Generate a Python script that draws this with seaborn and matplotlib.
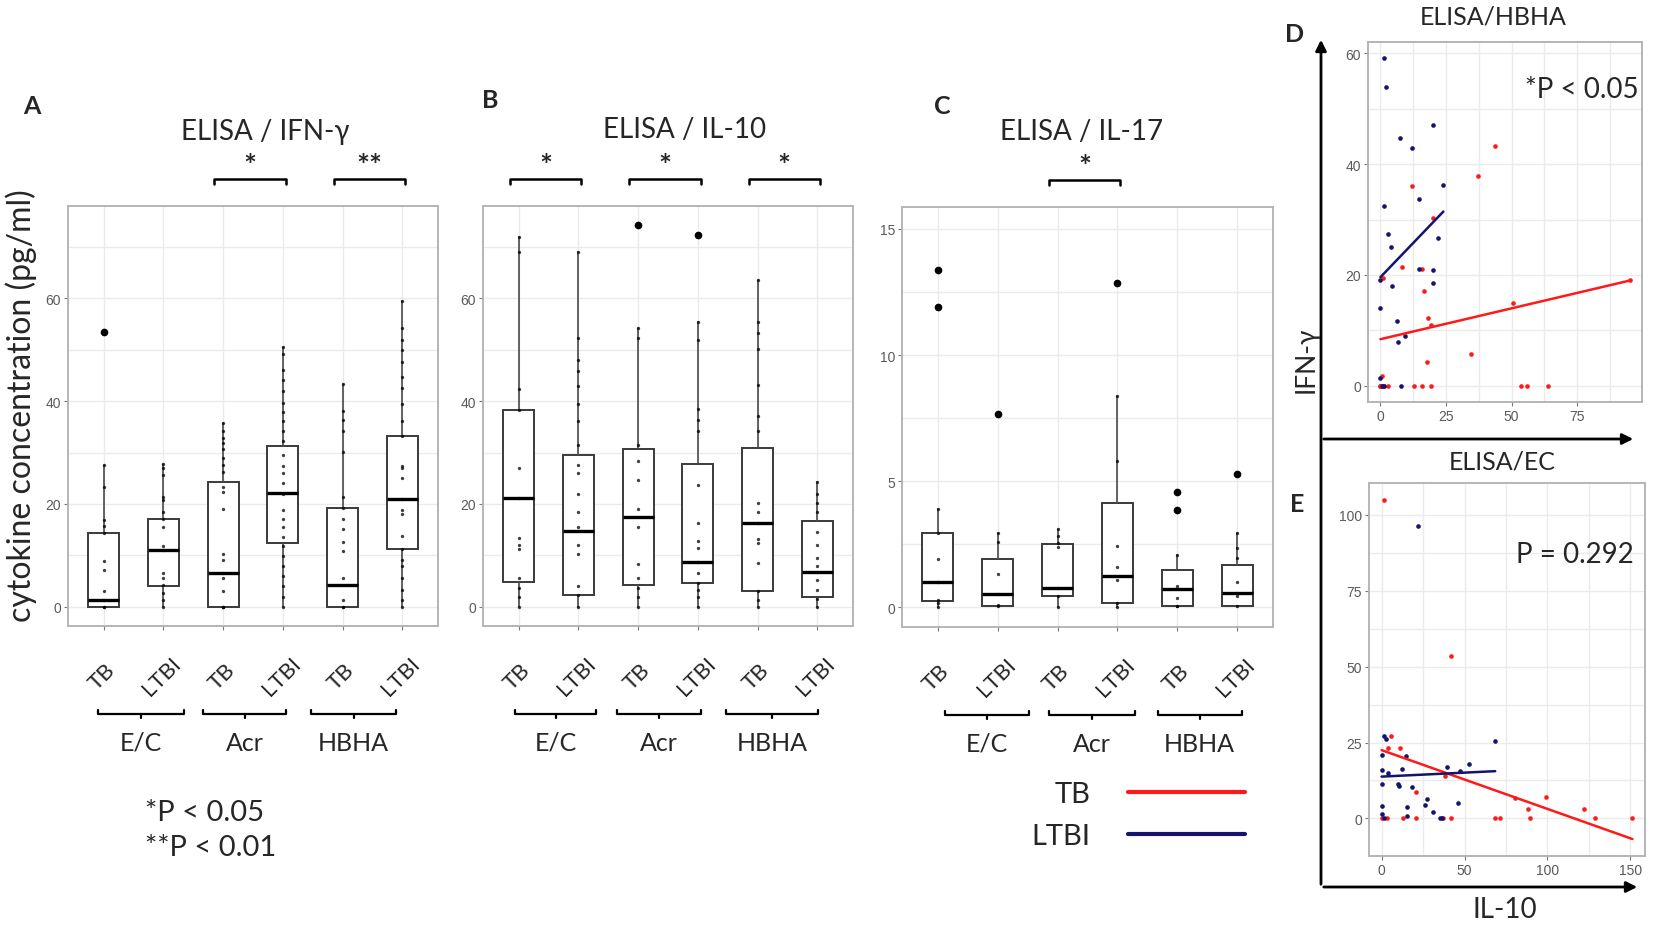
import numpy as np
import pandas as pd
import matplotlib
matplotlib.use("Agg")
import matplotlib.pyplot as plt
import matplotlib.transforms as mtransforms
from matplotlib.lines import Line2D
from matplotlib.patches import FancyArrowPatch
import seaborn as sns

sns.set_theme(style="white")
plt.rcParams['font.family'] = ['Lato', 'DejaVu Sans']

# categories
stimuli = ['E/C', 'Acr', 'HBHA']
groups = ['TB', 'LTBI']

# panel A: ELISA / IFN-g  (box stats)
ifng_q1 = [0, 4.0, 0, 12.5, 0, 11.3]
ifng_med = [1.4, 11.1, 6.6, 22.2, 4.2, 20.9]
ifng_q3 = [14.4, 17.0, 24.3, 31.2, 19.2, 33.3]
ifng_lo = [0, 0, 0, 0, 0, 0]
ifng_hi = [27.6, 27.7, 35.8, 50.5, 43.3, 59.4]
ifng_out = [[53.5], [], [], [], [], []]
ifng_pts = [
    [0, 0, 1.4, 3.1, 7.1, 8.9, 14.4, 15.8, 16.8, 23.3, 27.6],
    [0, 1.3, 2.7, 4.3, 5.6, 6.6, 11.1, 11.9, 15.5, 17.1, 18.4, 20.7, 21.4, 25.6, 26.9, 27.7],
    [0, 0, 0, 3.0, 5.6, 6.6, 9.2, 10.2, 19.1, 22.4, 23.3, 26.3, 27.6, 28.9, 30.6, 31.9, 32.8, 34.2, 35.8],
    [0, 2.0, 4.0, 6.0, 7.9, 9.9, 11.9, 13.5, 15.5, 17.1, 18.8, 22.0, 24.0, 26.0, 27.3, 29.6, 32.2,
     34.2, 36.1, 37.8, 39.7, 42.0, 44.0, 46.0, 49.2, 50.5],
    [0, 0, 1.4, 5.6, 10.9, 12.7, 15.2, 17.1, 19.2, 21.4, 30.2, 34.2, 36.3, 38.1, 43.3],
    [0, 1.3, 3.3, 5.6, 7.9, 9.2, 11.3, 13.8, 18.1, 18.8, 20.9, 25.1, 26.9, 27.3, 33.2, 36.1, 39.4,
     42.6, 44.6, 47.6, 49.9, 51.9, 54.2, 59.4],
]

# panel B: ELISA / IL-10
il10_q1 = [4.9, 2.3, 4.3, 4.6, 3.0, 2.0]
il10_med = [21.2, 14.7, 17.4, 8.7, 16.3, 6.7]
il10_q3 = [38.2, 29.6, 30.6, 27.7, 30.9, 16.6]
il10_lo = [0, 0, 0, 0, 0, 0]
il10_hi = [71.8, 69.0, 54.2, 55.4, 63.5, 24.3]
il10_out = [[], [], [74.2], [72.2], [], []]
il10_pts = [
    [0, 2.0, 3.6, 5.6, 11.2, 12.1, 13.4, 21.2, 26.9, 38.2, 42.4, 68.9, 71.8],
    [0, 2.3, 4.0, 10.2, 12.1, 15.5, 18.4, 22.0, 26.0, 27.6, 31.5, 36.1, 39.4, 43.0, 45.9, 48.0, 52.3, 69.0],
    [0, 2.0, 3.6, 5.6, 8.4, 15.5, 19.1, 24.7, 28.3, 31.5, 52.2, 54.2],
    [0, 2.0, 3.3, 4.6, 6.6, 8.7, 11.5, 12.9, 16.4, 23.6, 34.2, 36.3, 38.4, 51.9, 55.4],
    [0, 1.3, 3.0, 8.6, 12.5, 13.1, 16.3, 18.4, 20.1, 34.2, 37.1, 43.2, 50.2, 53.2, 55.4, 63.5],
    [0, 1.6, 3.3, 5.2, 6.7, 7.9, 9.5, 12.1, 14.6, 18.4, 20.1, 22.0, 24.3],
]

# panel C: ELISA / IL-17
il17_q1 = [0.26, 0.07, 0.46, 0.17, 0.07, 0.07]
il17_med = [1.0, 0.54, 0.76, 1.25, 0.72, 0.57]
il17_q3 = [2.93, 1.92, 2.5, 4.14, 1.49, 1.68]
il17_lo = [0, 0, 0, 0, 0, 0]
il17_hi = [3.9, 2.96, 3.09, 8.39, 2.08, 2.93]
il17_out = [[13.36, 11.9], [7.67], [], [12.87], [4.58, 3.86], [5.3]]
il17_pts = [
    [0, 0.17, 0.3, 1.0, 1.92, 2.93, 3.9],
    [0.04, 0.1, 0.54, 1.33, 2.57, 2.96],
    [0, 0.43, 0.76, 2.41, 2.54, 2.83, 3.09],
    [0, 0.17, 1.09, 1.59, 2.45, 5.8, 8.39],
    [0.04, 0.07, 0.37, 0.83, 2.08],
    [0.04, 0.43, 0.57, 0.99, 1.95, 2.34, 2.93],
]

# panel D: ELISA/HBHA, IL-10 (x) vs IFN-g (y)
hbha_tb_x = [43.5, 37.2, 12.1, 20, 8.4, 15.7, 1, 16.5, 50.5, 18.2, 19.1, 34.6, 17.8, 0.6, 95,
             0, 2.8, 12.9, 15.9, 19.1, 53.5, 55.8, 63.9, 0, 0.3, 0.8, 1.2]
hbha_tb_y = [43.2, 37.9, 36.1, 30.2, 21.4, 21.0, 19.4, 17.0, 14.9, 12.3, 10.9, 5.8, 4.2, 1.8, 19.0,
             0, 0, 0, 0, 0, 0, 0, 0, 0, 0, 0, 0]
hbha_ltbi_x = [1.5, 2.3, 20, 7.4, 11.9, 24, 14.6, 1.3, 2.8, 21.9, 3.9, 14.6, 20, 0, 20, 4.5, 0,
               6.3, 9.4, 6.7, 0, 0.6, 1.4, 8]
hbha_ltbi_y = [59.1, 54.0, 47.1, 44.7, 43.0, 36.3, 33.7, 32.5, 27.4, 26.6, 25.1, 21.1, 20.8, 19.0,
               18.5, 18.0, 14.0, 11.6, 8.9, 7.8, 1.3, 0, 0, 0]

# panel E: ELISA/EC
ec_tb_x = [1.6, 41.7, 5.6, 3.6, 11.1, 20.6, 38.3, 80.6, 99.4, 88.1, 122, 151.2, 128.4, 89.7,
           68.5, 71.6, 41.7, 37.3, 20.6, 12.7, 0, 3]
ec_tb_y = [104.9, 53.4, 27.1, 23.3, 23.3, 8.7, 14.1, 6.8, 7.0, 3.0, 3.0, 0, 0, 0,
           0, 0, 0, 0, 0, 0, 0, 0]
ec_ltbi_x = [21.8, 68.5, 1.6, 2.4, 0, 14.5, 0, 12.1, 39.3, 52.4, 47.4, 4, 0, 9.7, 10.5, 18.1,
             15.1, 26.2, 27.2, 45.8, 31.3, 0, 0, 15.1, 35.3, 36.5, 1.6]
ec_ltbi_y = [96.2, 25.5, 27.1, 26.3, 20.9, 20.4, 16.0, 16.3, 16.8, 17.9, 15.7, 15.0, 11.4, 11.4,
             10.6, 10.3, 3.6, 4.3, 6.3, 5.2, 2.2, 4.1, 1.4, 0.9, 0, 0, 0]

TB_COL = '#ff1a1a'
LTBI_COL = '#14146e'
GRID = '#ebebeb'
BORDER = '#b5b5b5'
TICK_TXT = '#5a5a5a'

W, H = 1654, 929
fig = plt.figure(figsize=(W / 100, H / 100), dpi=100)


def fx(px):
    return px / W


def fy(py):
    return 1 - py / H


def add_axes(left, top, right, bottom):
    return fig.add_axes([fx(left), fy(bottom), (right - left) / W, (bottom - top) / H])


def style_axes(ax, ymaj, ymin):
    ax.set_yticks(ymaj)
    ax.set_yticks(ymin, minor=True)
    ax.grid(which='both', axis='y', color=GRID, lw=1)
    ax.grid(which='major', axis='x', color=GRID, lw=1)
    ax.set_axisbelow(True)
    for s in ax.spines.values():
        s.set_visible(True)
        s.set_color(BORDER)
        s.set_linewidth(1.4)
    ax.tick_params(which='major', length=3, width=0.8, color='#777777', labelsize=10,
                   labelcolor=TICK_TXT, pad=2, left=True, bottom=True)
    ax.tick_params(which='minor', length=0)
    for lab in ax.get_yticklabels() + ax.get_xticklabels():
        lab.set_fontfamily('Liberation Sans')
    ax.set_xlabel('')
    ax.set_ylabel('')


order = [f'{s} {g}' for s in stimuli for g in groups]


def box_panel(ax, q1, med, q3, lo, hi, out, pts, ylim, ymaj, ymin, stars, spans):
    rows = [(order[i], v) for i, vals in enumerate(pts) for v in vals]
    df = pd.DataFrame(rows, columns=['cond', 'value'])
    sns.stripplot(data=df, x='cond', y='value', order=order, jitter=False, color='black',
                  size=2.4, alpha=0.75, ax=ax, zorder=4)
    stats = [dict(q1=q1[i], med=med[i], q3=q3[i], whislo=lo[i], whishi=hi[i], fliers=out[i])
             for i in range(len(order))]
    ax.bxp(stats, positions=range(len(order)), widths=0.52, patch_artist=True,
           showcaps=False, manage_ticks=False,
           boxprops=dict(facecolor='white', edgecolor='#3a3a3a', lw=1.4),
           medianprops=dict(color='black', lw=2.4),
           whiskerprops=dict(color='#4a4a4a', lw=1.2),
           flierprops=dict(marker='o', markerfacecolor='black', markeredgecolor='black',
                           markersize=4.5))
    ax.set_xlim(-0.6, len(order) - 0.4)
    ax.set_ylim(*ylim)
    ax.set_xticks(range(len(order)))
    style_axes(ax, ymaj, ymin)
    ax.set_xticklabels([])
    tr = mtransforms.blended_transform_factory(ax.transData, ax.transAxes)
    # rotated group labels (TB / LTBI)
    for i in range(len(order)):
        ax.annotate(groups[i % 2], xy=(i, 0), xycoords=tr, xytext=(-1, -36),
                    textcoords='offset points', rotation=45, ha='center', va='center',
                    rotation_mode='anchor', fontsize=16, annotation_clip=False)
    # stimulus brackets under the axis
    yb = -0.21
    for (x0, x1), name in zip(spans, stimuli):
        ax.plot([x0, x0, x1, x1], [yb + 0.01, yb, yb, yb + 0.01], transform=tr,
                clip_on=False, color='black', lw=1.6)
        xm = (x0 + x1) / 2
        ax.plot([xm, xm], [yb, yb - 0.01], transform=tr, clip_on=False, color='black', lw=1.6)
        ax.text(xm, yb - 0.067, name, transform=tr, ha='center', va='center', fontsize=18)
    # significance brackets above the axis
    for g, star in stars:
        x0, x1 = 2 * g - 0.15, 2 * g + 1 + 0.05
        ax.plot([x0, x0, x1, x1], [1.052, 1.064, 1.064, 1.052], transform=tr,
                clip_on=False, color='black', lw=1.8)
        ax.text((x0 + x1) / 2, 1.095, star, transform=tr, ha='center', va='center',
                fontsize=22, fontweight='bold')


m_ab = max(max(ifng_hi), max(il10_hi), max(max(o) for o in ifng_out + il10_out if o))
ylim_ab = (-0.05 * m_ab, 1.05 * m_ab)

axA = add_axes(68, 207, 438, 627)
box_panel(axA, ifng_q1, ifng_med, ifng_q3, ifng_lo, ifng_hi, ifng_out, ifng_pts, ylim_ab,
          [0, 20, 40, 60], [10, 30, 50, 70], [(1, '*'), (2, '**')],
          [(-0.1, 1.35), (1.67, 3.05), (3.47, 4.9)])

axB = add_axes(483, 207, 853, 627)
box_panel(axB, il10_q1, il10_med, il10_q3, il10_lo, il10_hi, il10_out, il10_pts, ylim_ab,
          [0, 20, 40, 60], [10, 30, 50, 70], [(0, '*'), (1, '*'), (2, '*')],
          [(-0.07, 1.3), (1.65, 3.05), (3.47, 5.02)])

axC = add_axes(902, 208, 1273, 628)
box_panel(axC, il17_q1, il17_med, il17_q3, il17_lo, il17_hi, il17_out, il17_pts, (-0.78, 15.87),
          [0, 5, 10, 15], [2.5, 7.5, 12.5], [(1, '*')],
          [(0.12, 1.53), (1.86, 3.29), (3.67, 5.08)])


def scatter_panel(ax, tx, ty, lx, ly, xmaj, xmin, ymaj, ymin):
    for x, y, col in [(tx, ty, TB_COL), (lx, ly, LTBI_COL)]:
        sns.regplot(x=np.array(x), y=np.array(y), ci=None, color=col, ax=ax,
                    scatter_kws=dict(s=11, linewidths=0, alpha=1),
                    line_kws=dict(lw=1.8))
    ax.margins(0.05)
    ax.set_xticks(xmaj)
    ax.set_xticks(xmin, minor=True)
    ax.grid(which='both', axis='x', color=GRID, lw=1)
    style_axes(ax, ymaj, ymin)


axD = add_axes(1368, 43, 1642, 403)
scatter_panel(axD, hbha_tb_x, hbha_tb_y, hbha_ltbi_x, hbha_ltbi_y,
              [0, 25, 50, 75], [12.5, 37.5, 62.5, 87.5], [0, 20, 40, 60], [10, 30, 50])

axE = add_axes(1369, 484, 1645, 857)
scatter_panel(axE, ec_tb_x, ec_tb_y, ec_ltbi_x, ec_ltbi_y,
              [0, 50, 100, 150], [25, 75, 125], [0, 25, 50, 75, 100], [12.5, 37.5, 62.5, 87.5])

# titles and panel letters
for letter, (px, py) in zip('ABCDE', [(32, 107), (490, 100), (942, 107), (1295, 35), (1297, 505)]):
    fig.text(fx(px), fy(py), letter, ha='center', va='center', fontsize=18, fontweight='bold')
for title, (px, py), fs in zip(['ELISA / IFN-γ', 'ELISA / IL-10', 'ELISA / IL-17', 'ELISA/HBHA', 'ELISA/EC'],
                               [(265, 132), (685, 130), (1082, 132), (1493, 17), (1502, 462)],
                               [20, 20, 20, 18, 18]):
    fig.text(fx(px), fy(py), title, ha='center', va='center', fontsize=fs)

fig.text(fx(21), fy(406), 'cytokine concentration (pg/ml)', rotation=90, ha='center',
         va='center', fontsize=23)
fig.text(fx(145), fy(813), '*P < 0.05', ha='left', va='center', fontsize=21)
fig.text(fx(145), fy(848), '**P < 0.01', ha='left', va='center', fontsize=21)

fig.text(fx(1582), fy(90), '*P < 0.05', ha='center', va='center', fontsize=20)
fig.text(fx(1575), fy(555), 'P = 0.292', ha='center', va='center', fontsize=20)
fig.text(fx(1306), fy(360), 'IFN-γ', rotation=90, ha='center', va='center', fontsize=19)
fig.text(fx(1505), fy(910), 'IL-10', ha='center', va='center', fontsize=20)

# axis arrows for D/E
for (xa, ya), (xb, yb) in [((1321, 888), (1321, 38)), ((1321, 440), (1636, 440)),
                           ((1321, 888), (1640, 888))]:
    fig.add_artist(FancyArrowPatch((fx(xa), fy(ya)), (fx(xb), fy(yb)), transform=fig.transFigure,
                                   arrowstyle='-|>', mutation_scale=16, lw=2, color='black'))

# legend for the regression lines
handles = [Line2D([], [], color=TB_COL, lw=3), Line2D([], [], color=LTBI_COL, lw=3)]
fig.legend(handles, groups, markerfirst=False, frameon=False, loc='center',
           bbox_to_anchor=(fx(1138), fy(816)), fontsize=21, handlelength=4.0,
           handletextpad=1.3, labelspacing=0.55)

fig.savefig('out.png', dpi=100)
